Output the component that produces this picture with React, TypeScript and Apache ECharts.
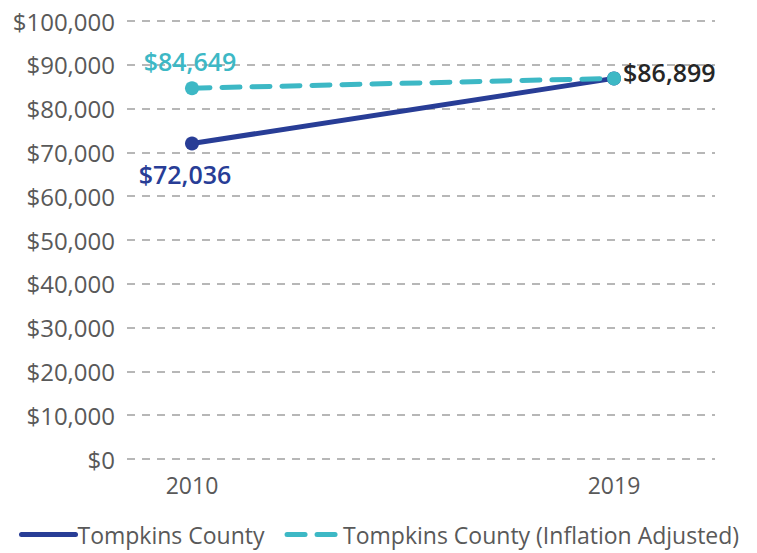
import React, { useEffect, useRef } from "react";
import * as echarts from "echarts";

const years = [2010, 2019];
const nominal = [72036, 86899];
const adjusted = [84649, 86899];
const yTicks = [0, 10000, 20000, 30000, 40000, 50000, 60000, 70000, 80000, 90000, 100000];
const seriesNames = ["Tompkins County", "Tompkins County (Inflation Adjusted)"];

const NAVY = "#283D96";
const TEAL = "#3DB8C5";
const FONT = "'Open Sans', sans-serif";

const fmt = (v: number) => "$" + v.toLocaleString("en-US");

export default function App() {
  const ref = useRef<HTMLDivElement>(null);
  useEffect(() => {
    if (!ref.current) return;
    const chart = echarts.init(ref.current, null, { renderer: "svg" });
    chart.setOption({
      animation: false,
      grid: { left: 127, right: 42, top: 21, bottom: 94, containLabel: false },
      xAxis: {
        type: "value",
        min: 2008.614,
        max: 2021.154,
        axisLine: { show: false },
        axisTick: { show: false },
        splitLine: { show: false },
        axisLabel: {
          customValues: years,
          color: "#595959",
          fontFamily: FONT,
          fontSize: 23,
          margin: 14,
          formatter: (v: number) => String(v),
        },
      },
      yAxis: {
        type: "value",
        min: yTicks[0],
        max: yTicks[yTicks.length - 1],
        interval: 10000,
        axisLine: { show: false },
        axisTick: { show: false },
        axisLabel: {
          color: "#595959",
          fontFamily: FONT,
          fontSize: 24,
          margin: 12,
          formatter: (v: number) => fmt(v),
        },
        splitLine: { lineStyle: { color: "#A0A0A0", width: 1.5, type: [8, 7] } },
      },
      legend: {
        bottom: 2,
        left: 14,
        itemWidth: 54,
        itemHeight: 14,
        itemGap: 20,
        textStyle: { color: "#595959", fontFamily: FONT, fontSize: 23, padding: [0, 0, 0, -3] },
        itemStyle: { opacity: 0 },
        lineStyle: { width: 5, cap: "round" },
        data: seriesNames,
      },
      series: [
        {
          name: seriesNames[0],
          type: "line",
          data: years.map((y, i) => [y, nominal[i]]),
          symbol: "circle",
          symbolSize: 14,
          lineStyle: { color: NAVY, width: 5 },
          itemStyle: { color: NAVY },
          z: 2,
          label: {
            show: true,
            fontFamily: FONT,
            fontSize: 25,
            fontWeight: 600,
            formatter: (p: any) => (p.dataIndex === 0 ? fmt(p.value[1]) : ""),
            color: NAVY,
            position: "bottom",
            distance: 11,
            offset: [-7, 0],
          },
        },
        {
          name: seriesNames[1],
          type: "line",
          data: [
            { value: [years[0], adjusted[0]] },
            {
              value: [years[1], adjusted[1]],
              label: { position: "right", color: "#262626", distance: 2, offset: [0, -6] },
            },
          ],
          symbol: "circle",
          symbolSize: 14,
          lineStyle: { color: TEAL, width: 5, type: [18, 12], cap: "round" },
          itemStyle: { color: TEAL },
          z: 3,
          label: {
            show: true,
            fontFamily: FONT,
            fontSize: 25,
            fontWeight: 600,
            formatter: (p: any) => fmt(p.value[1]),
            color: TEAL,
            position: "top",
            distance: 8,
            offset: [-2, 0],
          },
          emphasis: { disabled: true },
        },
      ],
    });
    return () => chart.dispose();
  }, []);
  return <div ref={ref} style={{ width: 757, height: 553, position: "absolute", left: 0, top: 0 }} />;
}
